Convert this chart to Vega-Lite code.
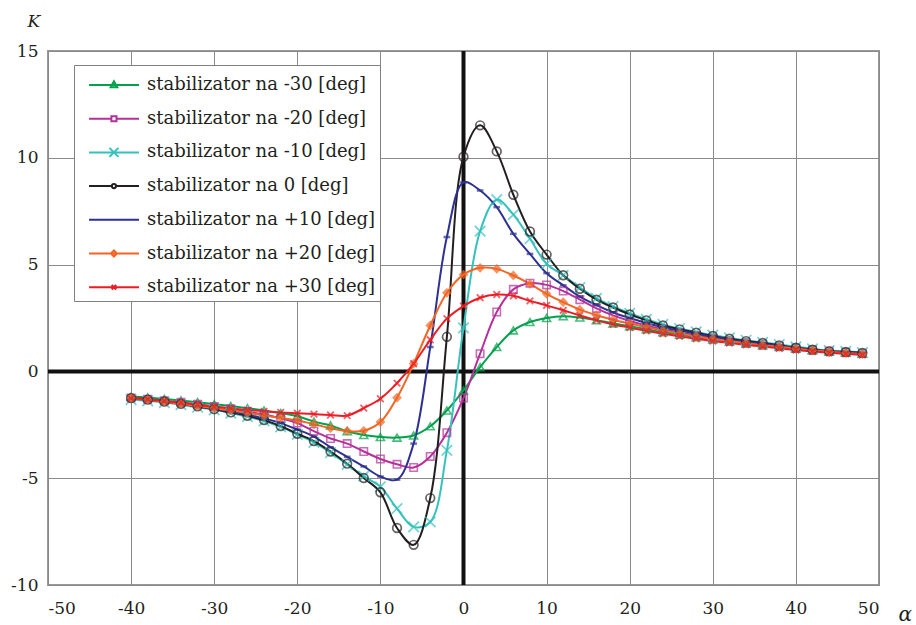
{
  "$schema": "https://vega.github.io/schema/vega-lite/v6.json",
  "width": 831,
  "height": 534,
  "autosize": "none",
  "padding": {"left": 48, "top": 51, "right": 37, "bottom": 40},
  "background": "white",
  "config": {
    "view": {"stroke": "#999999", "strokeWidth": 2},
    "font": "DejaVu Serif"
  },
  "datasets": {
    "series": [
      {"a": -40, "-30": -1.18, "-20": -1.25, "-10": -1.32, "0": -1.25, "+10": -1.27, "+20": -1.25, "+30": -1.25},
      {"a": -38, "-30": -1.22, "-20": -1.3, "-10": -1.38, "0": -1.32, "+10": -1.33, "+20": -1.33, "+30": -1.31},
      {"a": -36, "-30": -1.29, "-20": -1.37, "-10": -1.46, "0": -1.41, "+10": -1.42, "+20": -1.42, "+30": -1.39},
      {"a": -34, "-30": -1.36, "-20": -1.45, "-10": -1.56, "0": -1.52, "+10": -1.52, "+20": -1.52, "+30": -1.47},
      {"a": -32, "-30": -1.44, "-20": -1.54, "-10": -1.68, "0": -1.64, "+10": -1.63, "+20": -1.62, "+30": -1.56},
      {"a": -30, "-30": -1.53, "-20": -1.64, "-10": -1.8, "0": -1.77, "+10": -1.75, "+20": -1.72, "+30": -1.65},
      {"a": -28, "-30": -1.62, "-20": -1.75, "-10": -1.95, "0": -1.92, "+10": -1.88, "+20": -1.83, "+30": -1.73},
      {"a": -26, "-30": -1.72, "-20": -1.88, "-10": -2.12, "0": -2.08, "+10": -2.03, "+20": -1.94, "+30": -1.81},
      {"a": -24, "-30": -1.83, "-20": -2.02, "-10": -2.32, "0": -2.28, "+10": -2.2, "+20": -2.06, "+30": -1.87},
      {"a": -22, "-30": -1.95, "-20": -2.2, "-10": -2.6, "0": -2.56, "+10": -2.42, "+20": -2.18, "+30": -1.92},
      {"a": -20, "-30": -2.1, "-20": -2.42, "-10": -2.95, "0": -2.92, "+10": -2.72, "+20": -2.3, "+30": -1.96},
      {"a": -18, "-30": -2.35, "-20": -2.8, "-10": -3.32, "0": -3.26, "+10": -3.05, "+20": -2.47, "+30": -2.0},
      {"a": -16, "-30": -2.53, "-20": -3.14, "-10": -3.8, "0": -3.75, "+10": -3.55, "+20": -2.66, "+30": -2.04},
      {"a": -14, "-30": -2.8, "-20": -3.38, "-10": -4.35, "0": -4.32, "+10": -4.0, "+20": -2.79, "+30": -2.07},
      {"a": -12, "-30": -2.98, "-20": -3.75, "-10": -4.9, "0": -4.99, "+10": -4.45, "+20": -2.78, "+30": -1.72},
      {"a": -10, "-30": -3.07, "-20": -4.1, "-10": -5.4, "0": -5.66, "+10": -4.92, "+20": -2.37, "+30": -1.28},
      {"a": -8, "-30": -3.1, "-20": -4.35, "-10": -6.42, "0": -7.33, "+10": -5.07, "+20": -1.23, "+30": -0.55},
      {"a": -6, "-30": -3.0, "-20": -4.5, "-10": -7.28, "0": -8.12, "+10": -3.38, "+20": 0.36, "+30": 0.36},
      {"a": -4, "-30": -2.57, "-20": -3.98, "-10": -7.05, "0": -5.93, "+10": 1.14, "+20": 2.15, "+30": 1.48},
      {"a": -2, "-30": -1.83, "-20": -2.87, "-10": -3.7, "0": 1.62, "+10": 6.29, "+20": 3.68, "+30": 2.47},
      {"a": 0, "-30": -0.89, "-20": -1.25, "-10": 2.04, "0": 10.05, "+10": 8.85, "+20": 4.53, "+30": 3.06},
      {"a": 2, "-30": 0.2, "-20": 0.83, "-10": 6.57, "0": 11.52, "+10": 8.47, "+20": 4.85, "+30": 3.45},
      {"a": 4, "-30": 1.14, "-20": 2.78, "-10": 8.04, "0": 10.3, "+10": 7.69, "+20": 4.8, "+30": 3.6},
      {"a": 6, "-30": 1.92, "-20": 3.84, "-10": 7.34, "0": 8.27, "+10": 6.44, "+20": 4.49, "+30": 3.54},
      {"a": 8, "-30": 2.31, "-20": 4.13, "-10": 6.21, "0": 6.55, "+10": 5.5, "+20": 4.1, "+30": 3.3},
      {"a": 10, "-30": 2.5, "-20": 4.05, "-10": 5.04, "0": 5.47, "+10": 4.6, "+20": 3.63, "+30": 3.09},
      {"a": 12, "-30": 2.58, "-20": 3.76, "-10": 4.5, "0": 4.5, "+10": 4.03, "+20": 3.24, "+30": 2.86},
      {"a": 14, "-30": 2.52, "-20": 3.36, "-10": 3.92, "0": 3.87, "+10": 3.5, "+20": 2.89, "+30": 2.62},
      {"a": 16, "-30": 2.4, "-20": 2.95, "-10": 3.42, "0": 3.36, "+10": 3.1, "+20": 2.63, "+30": 2.39},
      {"a": 18, "-30": 2.25, "-20": 2.62, "-10": 3.04, "0": 2.99, "+10": 2.76, "+20": 2.42, "+30": 2.2},
      {"a": 20, "-30": 2.12, "-20": 2.36, "-10": 2.72, "0": 2.67, "+10": 2.5, "+20": 2.24, "+30": 2.05},
      {"a": 22, "-30": 1.98, "-20": 2.15, "-10": 2.44, "0": 2.39, "+10": 2.27, "+20": 2.07, "+30": 1.9},
      {"a": 24, "-30": 1.84, "-20": 1.97, "-10": 2.2, "0": 2.15, "+10": 2.07, "+20": 1.91, "+30": 1.76},
      {"a": 26, "-30": 1.72, "-20": 1.82, "-10": 2.01, "0": 1.97, "+10": 1.91, "+20": 1.77, "+30": 1.64},
      {"a": 28, "-30": 1.6, "-20": 1.68, "-10": 1.85, "0": 1.81, "+10": 1.76, "+20": 1.64, "+30": 1.53},
      {"a": 30, "-30": 1.49, "-20": 1.56, "-10": 1.7, "0": 1.66, "+10": 1.62, "+20": 1.52, "+30": 1.42},
      {"a": 32, "-30": 1.39, "-20": 1.45, "-10": 1.57, "0": 1.53, "+10": 1.5, "+20": 1.42, "+30": 1.33},
      {"a": 34, "-30": 1.3, "-20": 1.35, "-10": 1.46, "0": 1.42, "+10": 1.39, "+20": 1.32, "+30": 1.24},
      {"a": 36, "-30": 1.22, "-20": 1.27, "-10": 1.36, "0": 1.33, "+10": 1.3, "+20": 1.23, "+30": 1.16},
      {"a": 38, "-30": 1.14, "-20": 1.18, "-10": 1.26, "0": 1.22, "+10": 1.2, "+20": 1.15, "+30": 1.08},
      {"a": 40, "-30": 1.06, "-20": 1.09, "-10": 1.15, "0": 1.11, "+10": 1.1, "+20": 1.06, "+30": 1.0},
      {"a": 42, "-30": 0.99, "-20": 1.01, "-10": 1.06, "0": 1.02, "+10": 1.01, "+20": 0.98, "+30": 0.93},
      {"a": 44, "-30": 0.93, "-20": 0.95, "-10": 0.98, "0": 0.94, "+10": 0.93, "+20": 0.92, "+30": 0.87},
      {"a": 46, "-30": 0.88, "-20": 0.9, "-10": 0.94, "0": 0.91, "+10": 0.89, "+20": 0.86, "+30": 0.82},
      {"a": 48, "-30": 0.83, "-20": 0.85, "-10": 0.88, "0": 0.87, "+10": 0.84, "+20": 0.81, "+30": 0.77}
    ],
    "zero": [{"z": 0}]
  },
  "layer": [
    {
      "data": {"name": "zero"},
      "mark": {"type": "rule", "color": "#111111", "strokeWidth": 4},
      "encoding": {"y": {"field": "z", "type": "quantitative", "scale": {"domain": [-10, 15], "nice": false}}}
    },
    {
      "data": {"name": "zero"},
      "mark": {"type": "rule", "color": "#111111", "strokeWidth": 4},
      "encoding": {"x": {"field": "z", "type": "quantitative", "scale": {"domain": [-50, 50], "nice": false}}}
    },
    {
      "data": {"name": "series"},
      "transform": [
        {"fold": ["-30", "-20", "-10", "0", "+10", "+20", "+30"], "as": ["s", "k"]}
      ],
      "encoding": {
        "x": {
          "field": "a", "type": "quantitative",
          "scale": {"domain": [-50, 50], "nice": false},
          "axis": {
            "values": [-50, -40, -30, -20, -10, 0, 10, 20, 30, 40, 50],
            "labelExpr": "toString(datum.value)",
            "grid": true, "gridColor": "#8a8a8a", "gridWidth": 1,
            "ticks": false, "domain": false,
            "labelFont": "DejaVu Serif", "labelFontSize": 17, "labelColor": "#231f20", "labelPadding": 15,
            "title": "α", "titleFont": "DejaVu Serif", "titleFontStyle": "italic", "titleFontWeight": "normal",
            "titleFontSize": 20, "titleColor": "#231f20",
            "titleX": 850, "titleY": 35, "titleAlign": "left", "titleBaseline": "alphabetic"
          }
        },
        "y": {
          "field": "k", "type": "quantitative",
          "scale": {"domain": [-10, 15], "nice": false},
          "axis": {
            "values": [-10, -5, 0, 5, 10, 15],
            "labelExpr": "toString(datum.value)",
            "grid": true, "gridColor": "#8a8a8a", "gridWidth": 1,
            "ticks": false, "domain": false,
            "labelFont": "DejaVu Serif", "labelFontSize": 17, "labelColor": "#231f20", "labelPadding": 10,
            "title": "K", "titleFont": "DejaVu Serif", "titleFontStyle": "italic", "titleFontWeight": "normal",
            "titleFontSize": 17, "titleColor": "#231f20", "titleAngle": 0,
            "titleX": -21, "titleY": -25, "titleAlign": "left", "titleBaseline": "alphabetic"
          }
        },
        "color": {"field": "s", "type": "nominal",
          "scale": {
            "domain": ["-30", "-20", "-10", "0", "+10", "+20", "+30"],
            "range": ["#00a14b", "#b5309a", "#35c2bd", "#231f20", "#2e3192", "#f26522", "#ed1c24"]
          },
          "legend": {
            "title": null,
            "orient": "none", "legendX": 26, "legendY": 14,
            "fillColor": "white", "strokeColor": "#808080",
            "padding": 4,
            "symbolSize": 900, "symbolStrokeWidth": 2, "symbolOpacity": 1,
            "labelFont": "DejaVu Serif", "labelFontSize": 18, "labelColor": "#231f20",
            "labelOffset": 37, "rowPadding": 8.7, "labelLimit": 400,
            "labelExpr": "'stabilizator na ' + datum.label + ' [deg]\u2003'"
          }
        }
      },
      "layer": [
        {
          "mark": {"type": "line", "interpolate": "catmull-rom", "strokeWidth": 2}
        },
        {
          "transform": [{"filter": "datum.s === '-30'"}],
          "mark": {"type": "point", "filled": false, "shape": "triangle-up", "size": 65, "strokeWidth": 1.6}
        },
        {
          "transform": [{"filter": "datum.s === '-20'"}],
          "mark": {"type": "point", "filled": false, "shape": "square", "size": 55, "strokeWidth": 1.6}
        },
        {
          "transform": [{"filter": "datum.s === '-10'"}],
          "mark": {"type": "point", "filled": false, "shape": "M-1.35,-1.35L1.35,1.35M-1.35,1.35L1.35,-1.35", "size": 60, "strokeWidth": 1.7}
        },
        {
          "transform": [{"filter": "datum.s === '0'"}],
          "mark": {"type": "point", "filled": false, "shape": "circle", "size": 75, "strokeWidth": 1.7}
        },
        {
          "transform": [{"filter": "datum.s === '+10'"}],
          "mark": {"type": "point", "filled": false, "shape": "M-0.9,0L0.9,0", "size": 55, "strokeWidth": 2.5}
        },
        {
          "transform": [{"filter": "datum.s === '+20'"}],
          "mark": {"type": "point", "filled": false, "fill": "#f26522", "shape": "diamond", "size": 65, "strokeWidth": 1.2}
        },
        {
          "transform": [{"filter": "datum.s === '+30'"}],
          "mark": {"type": "point", "filled": false, "shape": "M-0.85,-0.85L0.85,0.85M-0.85,0.85L0.85,-0.85", "size": 60, "strokeWidth": 1.8}
        },
        {
          "mark": {"type": "point", "filled": false, "opacity": 0, "size": 900, "strokeWidth": 2},
          "encoding": {
            "shape": {"field": "s", "type": "nominal",
              "scale": {
                "domain": ["-30", "-20", "-10", "0", "+10", "+20", "+30"],
                "range": [
                  "M-0.33,0L3,0M1.33,-0.25L1.55,0.15L1.11,0.15Z",
                  "M-0.33,0L1.16,0M1.5,0L3,0M1.16,-0.17L1.5,-0.17L1.5,0.17L1.16,0.17Z",
                  "M-0.33,0L3,0M1.03,-0.3L1.63,0.3M1.03,0.3L1.63,-0.3",
                  "M-0.33,0L1.19,0M1.47,0L3,0M1.47,0A0.14,0.14,0,1,1,1.19,0A0.14,0.14,0,1,1,1.47,0",
                  "M-0.33,0L3,0",
                  "M-0.33,0L3,0M1.33,-0.2L1.53,0L1.33,0.2L1.13,0Z",
                  "M-0.33,0L3,0M1.18,-0.15L1.48,0.15M1.18,0.15L1.48,-0.15"
                ]
              },
              "legend": {
                "title": null,
                "orient": "none", "legendX": 26, "legendY": 14,
                "fillColor": "white", "strokeColor": "#808080",
                "padding": 4,
                "symbolSize": 900, "symbolStrokeWidth": 2, "symbolOpacity": 1,
                "labelFont": "DejaVu Serif", "labelFontSize": 18, "labelColor": "#231f20",
                "labelOffset": 37, "rowPadding": 8.7, "labelLimit": 400,
                "labelExpr": "'stabilizator na ' + datum.label + ' [deg]\u2003'"
              }
            }
          }
        }
      ]
    }
  ]
}
